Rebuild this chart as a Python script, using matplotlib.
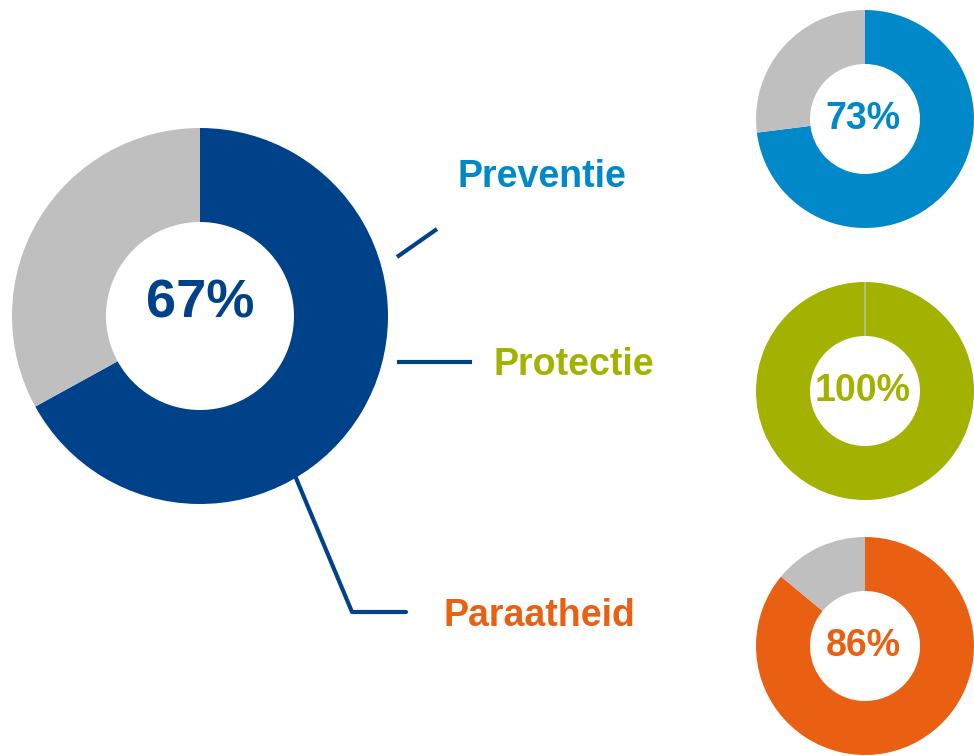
# DONUTS - PREVENTIE / PROTECTIE / PARAATHEID
import matplotlib
matplotlib.use("Agg")
import matplotlib.pyplot as plt

# DATOS
totaal = 67
labels = ["Preventie", "Protectie", "Paraatheid"]
waarden = [73, 100, 86]

# COLORES
blauw_donker = "#00428a"
kleuren = ["#0088c9", "#a3b100", "#e96012"]
grijs = "#bfbfbf"

plt.rcParams['font.family'] = ['Liberation Sans', 'DejaVu Sans']

fig = plt.figure(figsize=(9.74, 7.56), dpi=100)
ax = fig.add_axes([0, 0, 1, 1])

H = 756

def donut(cx, cy, r, r_in, pct, kleur):
    wedges, _ = ax.pie(
        [pct, 100 - pct],
        colors=[kleur, grijs],
        startangle=90,
        counterclock=False,
        center=(cx, H - cy),
        radius=r,
        wedgeprops=dict(width=r - r_in, linewidth=0),
        frame=True
    )
    # RESTO VACIO: SOLO UNA LINEA FINA GRIS
    if pct >= 100:
        wedges[1].set_edgecolor(grijs)
        wedges[1].set_linewidth(1)

# DONUT GRANDE
donut(200, 316, 188, 94, totaal, blauw_donker)
ax.text(200, H - 303, f"{totaal}%", color=blauw_donker, fontsize=39,
        fontweight='bold', ha='center', va='center')

# DONUTS PEQUENOS
centros_y = [119, 391, 646]
for i in range(3):
    donut(865, centros_y[i], 109, 55, waarden[i], kleuren[i])
    ax.text(863, H - centros_y[i], f"{waarden[i]}%", color=kleuren[i],
            fontsize=27, fontweight='bold', ha='center', va='center')

# ETIQUETAS
pos_labels = [(457, 187), (493, 375), (444, 626)]
for i in range(3):
    ax.text(pos_labels[i][0], H - pos_labels[i][1], labels[i], color=kleuren[i],
            fontsize=27, fontweight='bold', ha='left', va='baseline')

# LINEAS
lw = 3
ax.plot([397, 437], [H - 257, H - 229], color=blauw_donker, lw=lw,
        solid_capstyle='butt')
ax.plot([397, 472], [H - 362, H - 362], color=blauw_donker, lw=lw,
        solid_capstyle='butt')
ax.plot([296, 352, 406], [H - 478, H - 612, H - 612], color=blauw_donker, lw=lw,
        solid_capstyle='round', solid_joinstyle='round')

ax.set_xlim(0, 974)
ax.set_ylim(0, 756)
ax.set_aspect('equal')
ax.axis('off')

plt.savefig("out.png", dpi=100)
